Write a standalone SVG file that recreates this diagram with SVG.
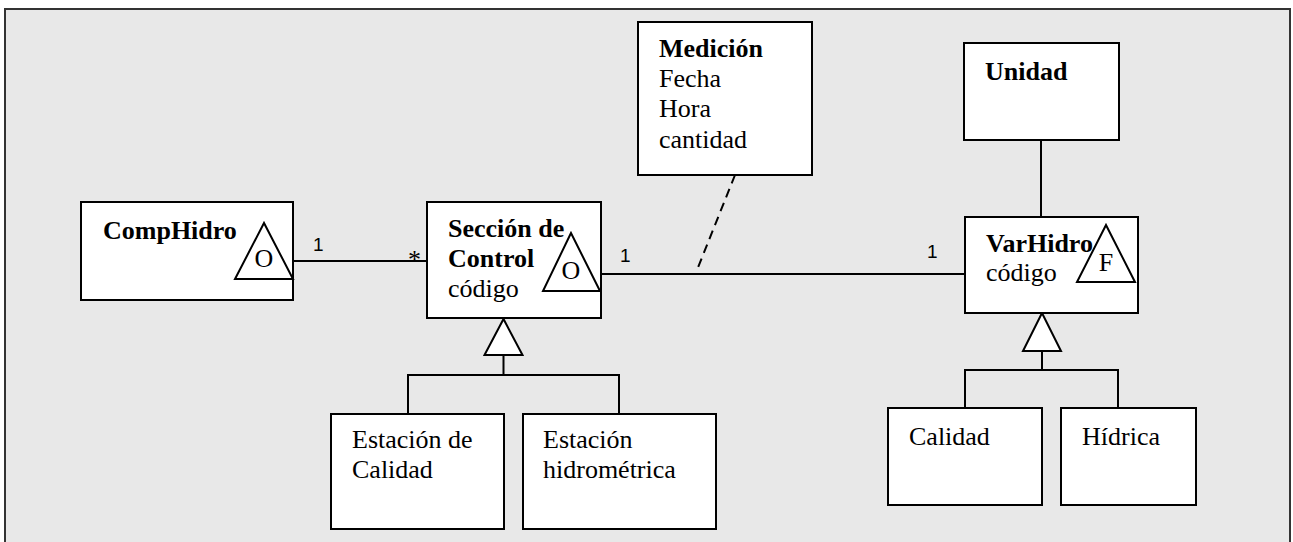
<svg xmlns="http://www.w3.org/2000/svg" width="1293" height="542" viewBox="0 0 1293 542">
<style>
.box{fill:#fff;stroke:#000;stroke-width:2}
.tri{fill:#fff;stroke:#000;stroke-width:2;stroke-linejoin:miter}
.ln{fill:none;stroke:#000;stroke-width:2}
.dash{fill:none;stroke:#000;stroke-width:2;stroke-dasharray:9 6}
text{font-family:"Liberation Serif","Times New Roman",serif;font-size:26px;fill:#000}
.b{font-weight:bold}
.m{font-family:"Liberation Sans",Arial,sans-serif;font-size:19px}
</style>
<rect x="5" y="9" width="1285" height="545" fill="#e8e8e8" stroke="#333" stroke-width="2"/>
<g id="connectors">
<line class="ln" x1="293" y1="261" x2="427" y2="261"/>
<line class="ln" x1="601" y1="274" x2="965" y2="274"/>
<line class="dash" x1="735" y1="175" x2="697" y2="270"/>
<line class="ln" x1="1041" y1="140" x2="1041" y2="217"/>
<polygon class="tri" points="503.5,319 484.5,355 522.5,355"/>
<polyline class="ln" points="503.5,355 503.5,375"/>
<polyline class="ln" points="408,414 408,375 619,375 619,414"/>
<polygon class="tri" points="1042,313 1023,351 1061,351"/>
<polyline class="ln" points="1042,351 1042,370"/>
<polyline class="ln" points="965,408 965,370 1118,370 1118,408"/>
<text class="m" x="313" y="251">1</text>
<text x="408" y="268">*</text>
<text class="m" x="620" y="262">1</text>
<text class="m" x="927" y="258">1</text>
</g>
<g id="comphidro">
<rect class="box" x="81" y="202" width="212" height="98"/>
<text class="b" x="103" y="239">CompHidro</text>
<polygon class="tri" points="264,223 235,279 293,279"/>
<text x="264" y="267" text-anchor="middle">O</text>
</g>
<g id="seccion">
<rect class="box" x="427" y="202" width="174" height="116"/>
<text class="b" x="448" y="237">Sección de</text>
<text class="b" x="448" y="267">Control</text>
<text x="448" y="297">código</text>
<polygon class="tri" points="571,233 543,291 600,291"/>
<text x="571" y="279" text-anchor="middle">O</text>
</g>
<g id="medicion">
<rect class="box" x="638" y="22" width="174" height="153"/>
<text class="b" x="659" y="57">Medición</text>
<text x="659" y="87">Fecha</text>
<text x="659" y="117">Hora</text>
<text x="659" y="148">cantidad</text>
</g>
<g id="unidad">
<rect class="box" x="964" y="43" width="155" height="97"/>
<text class="b" x="985" y="80">Unidad</text>
</g>
<g id="varhidro">
<rect class="box" x="965" y="217" width="173" height="96"/>
<text class="b" x="986" y="252">VarHidro</text>
<text x="986" y="281">código</text>
<polygon class="tri" points="1106,225 1077,282 1135,282"/>
<text x="1106" y="271" text-anchor="middle">F</text>
</g>
<g id="estacion-calidad">
<rect class="box" x="331" y="414" width="173" height="115"/>
<text x="352" y="448">Estación de</text>
<text x="352" y="478">Calidad</text>
</g>
<g id="estacion-hidrometrica">
<rect class="box" x="523" y="414" width="193" height="115"/>
<text x="543" y="448">Estación</text>
<text x="543" y="478">hidrométrica</text>
</g>
<g id="calidad">
<rect class="box" x="888" y="408" width="154" height="97"/>
<text x="909" y="445">Calidad</text>
</g>
<g id="hidrica">
<rect class="box" x="1061" y="408" width="135" height="97"/>
<text x="1082" y="445">Hídrica</text>
</g>
</svg>
